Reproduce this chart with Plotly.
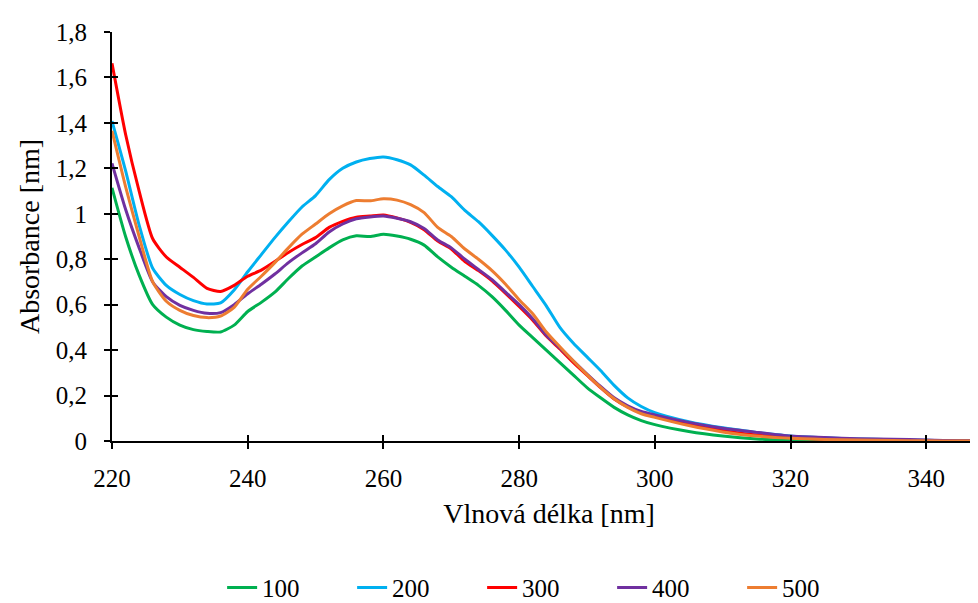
import plotly.graph_objects as go

wavelength = [220, 222, 224, 226, 228, 230, 232, 234, 236, 238, 240, 242, 244, 246, 248, 250,
              252, 254, 256, 258, 260, 262, 264, 266, 268, 270, 272, 274, 276, 278, 280, 282,
              284, 286, 288, 290, 292, 294, 296, 298, 300, 305, 310, 315, 320, 325, 330, 335,
              340, 345, 350]

a100 = [1.114, 0.90, 0.73, 0.60, 0.545, 0.51, 0.49, 0.482, 0.480, 0.51, 0.57, 0.61, 0.655, 0.715,
        0.77, 0.81, 0.85, 0.885, 0.903, 0.900, 0.910, 0.902, 0.888, 0.862, 0.81, 0.765, 0.725,
        0.685, 0.635, 0.575, 0.51, 0.455, 0.40, 0.345, 0.29, 0.235, 0.19, 0.148, 0.115, 0.09,
        0.072, 0.042, 0.022, 0.009, 0.004, 0.002, 0.001, 0.0, 0.0, 0.0, 0.0]

a200 = [1.408, 1.19, 0.95, 0.76, 0.685, 0.645, 0.618, 0.603, 0.608, 0.665, 0.745, 0.82, 0.895,
        0.965, 1.03, 1.08, 1.15, 1.20, 1.228, 1.243, 1.250, 1.238, 1.215, 1.17, 1.12, 1.075,
        1.015, 0.965, 0.905, 0.84, 0.765, 0.68, 0.595, 0.50, 0.43, 0.37, 0.31, 0.245, 0.19,
        0.152, 0.125, 0.085, 0.058, 0.038, 0.022, 0.014, 0.009, 0.006, 0.003, 0.0, 0.0]

a300 = [1.662, 1.35, 1.10, 0.89, 0.81, 0.765, 0.72, 0.672, 0.658, 0.685, 0.725, 0.752, 0.79,
        0.83, 0.865, 0.895, 0.94, 0.967, 0.985, 0.99, 0.995, 0.982, 0.962, 0.93, 0.88, 0.845,
        0.79, 0.75, 0.705, 0.65, 0.592, 0.532, 0.462, 0.405, 0.345, 0.29, 0.235, 0.185, 0.15,
        0.125, 0.108, 0.073, 0.046, 0.026, 0.015, 0.008, 0.005, 0.003, 0.001, 0.0, 0.0]

a400 = [1.222, 1.02, 0.85, 0.70, 0.635, 0.597, 0.575, 0.562, 0.565, 0.60, 0.648, 0.69, 0.735,
        0.785, 0.828, 0.868, 0.92, 0.955, 0.978, 0.986, 0.99, 0.98, 0.965, 0.935, 0.885, 0.85,
        0.80, 0.755, 0.71, 0.655, 0.60, 0.538, 0.466, 0.41, 0.352, 0.295, 0.24, 0.19, 0.155,
        0.13, 0.115, 0.082, 0.056, 0.038, 0.022, 0.015, 0.01, 0.008, 0.004, 0.0, 0.0]

a500 = [1.365, 1.12, 0.90, 0.70, 0.615, 0.575, 0.552, 0.543, 0.55, 0.588, 0.668, 0.725, 0.785,
        0.85, 0.91, 0.955, 1.00, 1.035, 1.058, 1.057, 1.066, 1.06, 1.04, 1.005, 0.94, 0.90,
        0.845, 0.80, 0.75, 0.69, 0.622, 0.56, 0.48, 0.415, 0.352, 0.292, 0.236, 0.186, 0.148,
        0.12, 0.104, 0.068, 0.04, 0.022, 0.012, 0.007, 0.004, 0.002, 0.001, 0.0, 0.0]

series_names = ["100", "200", "300", "400", "500"]
series_values = [a100, a200, a300, a400, a500]
colors = ["#00B050", "#00B0F0", "#FF0000", "#7030A0", "#ED7D31"]

x_range = [220, 348.8]
y_range = [0, 1.8]

FONT = "Liberation Serif"

fig = go.Figure()
for name, vals, col in zip(series_names, series_values, colors):
    fig.add_trace(go.Scatter(x=wavelength, y=vals, name=name, mode="lines",
                             line=dict(color=col, width=3, shape="spline", smoothing=0.6)))

# dummy trace so the overlay axes (inside half of crossing ticks) are drawn
fig.add_trace(go.Scatter(x=[], y=[], xaxis="x2", yaxis="y2", showlegend=False,
                         hoverinfo="skip"))

axis_common = dict(showgrid=False, zeroline=False, showline=True, linecolor="black",
                   linewidth=2, ticks="outside", ticklen=6, tickwidth=2, tickcolor="black",
                   automargin=False,
                   tickfont=dict(family=FONT, size=25, color="black"))

fig.update_layout(
    width=978, height=603,
    margin=dict(l=104, r=0, t=24, b=161),
    paper_bgcolor="white", plot_bgcolor="white",
    separators=", ",
    font=dict(family=FONT, color="black"),
    xaxis=dict(range=x_range, dtick=20, tick0=220, ticklabelstandoff=8,
               title=dict(text="Vlnová délka [nm]", font=dict(family=FONT, size=28),
                          standoff=12),
               **axis_common),
    yaxis=dict(range=y_range, dtick=0.2, tick0=0, ticklabelstandoff=12,
               title=dict(text="Absorbance [nm]", font=dict(family=FONT, size=28),
                          standoff=8),
               **axis_common),
    xaxis2=dict(range=x_range, dtick=20, tick0=220, overlaying="x", anchor="y",
                side="bottom", showline=False, showgrid=False, zeroline=False,
                ticks="inside", ticklen=6, tickwidth=2, tickcolor="black",
                showticklabels=False),
    yaxis2=dict(range=y_range, dtick=0.2, tick0=0, overlaying="y", anchor="x",
                side="left", showline=False, showgrid=False, zeroline=False,
                ticks="inside", ticklen=6, tickwidth=2, tickcolor="black",
                showticklabels=False),
    legend=dict(orientation="h", x=0.126, xanchor="left", y=-0.359, yanchor="middle",
                font=dict(family=FONT, size=25, color="black"),
                entrywidth=85, bgcolor="rgba(0,0,0,0)"),
    showlegend=True,
)

fig.write_html("out.html", config={"displayModeBar": False})
